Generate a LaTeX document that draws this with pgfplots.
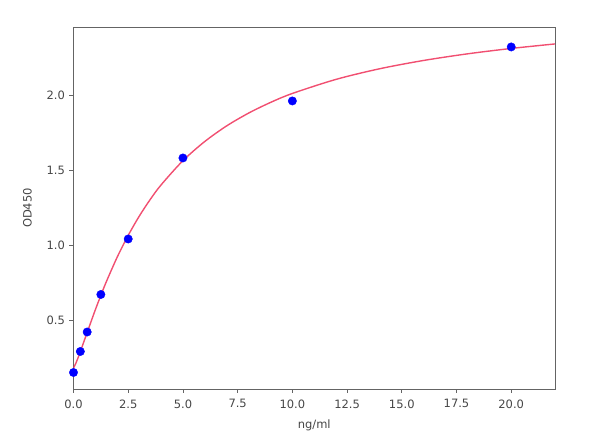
\documentclass[border=0pt]{standalone}
\usepackage{fontspec}
\setmainfont{DejaVu Sans}
\usepackage{pgfplots}
\pgfplotsset{compat=1.18}
\definecolor{fitred}{RGB}{238,48,88}
\definecolor{axgray}{RGB}{100,100,100}
\definecolor{txtgray}{RGB}{70,70,70}
\begin{document}
\begin{tikzpicture}
\begin{axis}[
  name=ax, at={(0,0)}, anchor=south west,
  scale only axis, width=481.5pt, height=362pt,
  xmin=0, xmax=22, ymin=0.04, ymax=2.453,
  xtick={0,2.5,5,7.5,10,12.5,15,17.5,20},
  ytick={0.5,1.0,1.5,2.0},
  x tick label style={yshift=-3pt},
  y tick label style={xshift=-1pt},
  /pgf/number format/fixed,
  /pgf/number format/fixed zerofill,
  /pgf/number format/precision=1,
  /pgf/number format/assume math mode=true,
  tick align=outside, tick pos=left, major tick length=4pt,
  axis line style={axgray, line width=0.8pt},
  every tick/.style={axgray, line width=0.8pt},
  tick label style={font=\fontsize{11.5}{13}\selectfont, text=txtgray},
  xlabel={ng/ml}, ylabel={OD450},
  label style={font=\fontsize{11.5}{13}\selectfont, text=txtgray},
  xlabel style={yshift=-5pt},
  ylabel style={yshift=8pt},
  clip=true,
]
\addplot[only marks, mark=*, mark size=4.2pt, color=blue, mark options={fill=blue, draw=blue}] coordinates {
  (0,0.15) (0.3125,0.29) (0.625,0.42) (1.25,0.67) (2.5,1.04) (5,1.58) (10,1.96) (20,2.32)
};
\addplot[fitred, line width=1.4pt, smooth, opacity=0.85] coordinates {
  (0,0.180) (0.1,0.209) (0.2,0.245) (0.3125,0.289) (0.5,0.366) (0.625,0.417) (0.75,0.468)
  (1,0.569) (1.25,0.664) (1.5,0.755) (2,0.920) (2.5,1.064) (3,1.191) (3.5,1.302) (4,1.400)
  (5,1.562) (6,1.690) (7,1.794) (8,1.879) (9,1.950) (10,2.010) (12,2.104) (14,2.175)
  (16,2.230) (18,2.274) (20,2.310) (22,2.340)
};
\end{axis}
\pgfresetboundingbox
\path[use as bounding box] ([shift={(-73.5pt,-52pt)}]ax.south west) rectangle ([shift={(526.5pt,389pt)}]ax.south west);
\end{tikzpicture}
\end{document}
